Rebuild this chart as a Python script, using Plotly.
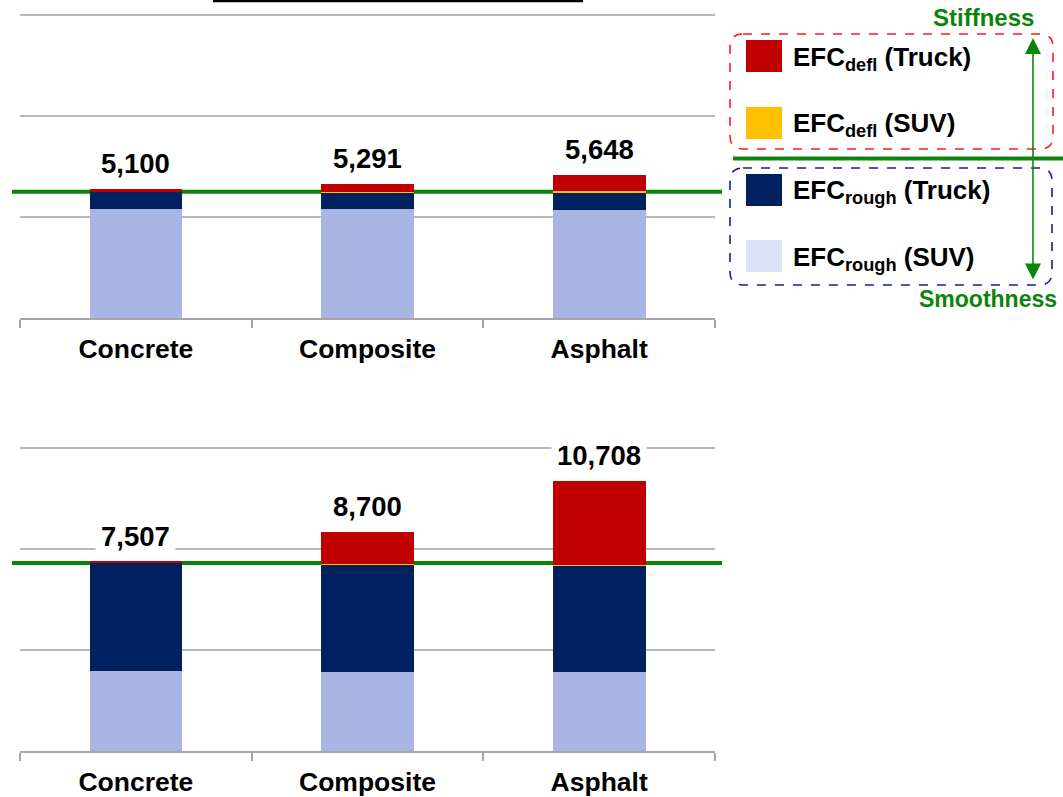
import plotly.graph_objects as go

W, H = 1063, 797

categories = ["Concrete", "Composite", "Asphalt"]

# Top panel
top_rough_suv = [4330, 4300, 4260]
top_rough_truck = [670, 680, 680]
top_defl_suv = [0, 30, 90]
top_defl_truck = [100, 281, 618]
top_totals = [5100, 5291, 5648]
top_ref = 5000

# Bottom panel
bot_rough_suv = [3190, 3150, 3120]
bot_rough_truck = [4257, 4244, 4216]
bot_defl_suv = [0, 30, 60]
bot_defl_truck = [60, 1276, 3312]
bot_totals = [7507, 8700, 10708]
bot_ref = 7460

y_ticks = [0, 4000, 8000, 12000]
y_max = 12400

C_RED = "#C00000"
C_YEL = "#FFC000"
C_NAVY = "#002060"
C_LIGHT = "#ABB5E3"
C_LIGHT_LEG = "#DCE2F8"
C_GREEN = "#0A850A"
FONT = "Liberation Sans, Arial, sans-serif"


def px_x(x):
    return x / W


def px_y(y):
    return 1 - y / H


fig = go.Figure()

series = [
    ("EFC rough (SUV)", C_LIGHT),
    ("EFC rough (Truck)", C_NAVY),
    ("EFC defl (SUV)", C_YEL),
    ("EFC defl (Truck)", C_RED),
]
top_vals = [top_rough_suv, top_rough_truck, top_defl_suv, top_defl_truck]
bot_vals = [bot_rough_suv, bot_rough_truck, bot_defl_suv, bot_defl_truck]

for (name, col), vals in zip(series, top_vals):
    fig.add_trace(go.Bar(x=categories, y=vals, name=name, marker_color=col,
                         marker_line_width=0, showlegend=False,
                         xaxis="x", yaxis="y"))
for (name, col), vals in zip(series, bot_vals):
    fig.add_trace(go.Bar(x=categories, y=vals, name=name, marker_color=col,
                         marker_line_width=0, showlegend=False,
                         xaxis="x2", yaxis="y2"))

xaxis_common = dict(
    type="category", showline=True, linecolor="#A6A6A6", linewidth=1.5,
    ticks="outside", tickson="boundaries", ticklen=8, tickcolor="#A6A6A6",
    tickwidth=1.5, showgrid=False, automargin=False, ticklabelstandoff=6,
    tickfont=dict(family=FONT, size=26.5, color="black", weight="bold"),
    domain=[px_x(20), px_x(715)], fixedrange=True,
)
yaxis_common = dict(
    range=[0, y_max], tickvals=y_ticks, showticklabels=False,
    showgrid=True, gridcolor="#B8B8B8", gridwidth=1.5, zeroline=False,
    showline=False, ticks="", automargin=False, fixedrange=True,
)

# plot-area pixel extents: 0 at baseline, 12000 at the top grid line
top_base, top_12k = 318, 15
bot_base, bot_12k = 751, 448.5
top_dom_top = top_base - (top_base - top_12k) * y_max / 12000
bot_dom_top = bot_base - (bot_base - bot_12k) * y_max / 12000

fig.update_layout(
    width=W, height=H, barmode="stack", bargap=0.6,
    margin=dict(l=0, r=0, t=0, b=0),
    paper_bgcolor="white", plot_bgcolor="rgba(0,0,0,0)",
    showlegend=False,
    xaxis=dict(**xaxis_common, anchor="y"),
    yaxis=dict(**yaxis_common, domain=[px_y(top_base), px_y(top_dom_top)], anchor="x"),
    xaxis2=dict(**xaxis_common, anchor="y2"),
    yaxis2=dict(**yaxis_common, domain=[px_y(bot_base), px_y(bot_dom_top)], anchor="x2"),
)

annotations = []
for xr, yr, totals in [("x", "y", top_totals), ("x2", "y2", bot_totals)]:
    for c, t in zip(categories, totals):
        annotations.append(dict(
            x=c, y=t, xref=xr, yref=yr, text=f"{t:,}", showarrow=False,
            yanchor="bottom", yshift=4, bgcolor="white", borderpad=5,
            font=dict(family=FONT, size=27.5, color="black", weight="bold"),
        ))

shapes = []
# Reference (green) lines, drawn beneath the bars
shapes.append(dict(type="line", xref="paper", yref="y", x0=px_x(12), x1=px_x(722),
                   y0=top_ref, y1=top_ref, layer="below",
                   line=dict(color=C_GREEN, width=4)))
shapes.append(dict(type="line", xref="paper", yref="y2", x0=px_x(12), x1=px_x(722),
                   y0=bot_ref, y1=bot_ref, layer="below",
                   line=dict(color=C_GREEN, width=4)))
# Black line at the very top (cropped title underline)
shapes.append(dict(type="line", xref="paper", yref="paper", x0=px_x(213), x1=px_x(583),
                   y0=px_y(1), y1=px_y(1), line=dict(color="black", width=2.5)))

# Legend boxes (rounded, dashed)
def rounded_rect(x0, y0, x1, y1, r):
    X = lambda v: f"{px_x(v):.5f}"
    Y = lambda v: f"{px_y(v):.5f}"
    return (f"M {X(x0 + r)},{Y(y0)} L {X(x1 - r)},{Y(y0)} Q {X(x1)},{Y(y0)} {X(x1)},{Y(y0 + r)} "
            f"L {X(x1)},{Y(y1 - r)} Q {X(x1)},{Y(y1)} {X(x1 - r)},{Y(y1)} "
            f"L {X(x0 + r)},{Y(y1)} Q {X(x0)},{Y(y1)} {X(x0)},{Y(y1 - r)} "
            f"L {X(x0)},{Y(y0 + r)} Q {X(x0)},{Y(y0)} {X(x0 + r)},{Y(y0)} Z")

shapes.append(dict(type="path", xref="paper", yref="paper",
                   path=rounded_rect(730, 34, 1053, 149, 13),
                   line=dict(color="#FF1A1A", width=1.6, dash="dash")))
shapes.append(dict(type="path", xref="paper", yref="paper",
                   path=rounded_rect(730, 168, 1052, 285, 13),
                   line=dict(color="#1A1AA6", width=1.6, dash="dash")))
# legend green line
shapes.append(dict(type="line", xref="paper", yref="paper", x0=px_x(733), x1=px_x(1063),
                   y0=px_y(158.5), y1=px_y(158.5), line=dict(color=C_GREEN, width=4)))

legend_items = [
    ("EFC<sub>defl</sub> (Truck)", C_RED, 40),
    ("EFC<sub>defl</sub> (SUV)", C_YEL, 107),
    ("EFC<sub>rough</sub> (Truck)", C_NAVY, 174),
    ("EFC<sub>rough</sub> (SUV)", C_LIGHT_LEG, 240),
]
for text, col, ytop in legend_items:
    shapes.append(dict(type="rect", xref="paper", yref="paper",
                       x0=px_x(746), x1=px_x(782), y0=px_y(ytop), y1=px_y(ytop + 32),
                       fillcolor=col, line=dict(width=0)))
    annotations.append(dict(
        x=px_x(791), y=px_y(ytop + 18), xref="paper", yref="paper", text=text,
        showarrow=False, xanchor="left", yanchor="middle",
        font=dict(family=FONT, size=26, color="black", weight="bold"),
    ))

# Stiffness / Smoothness labels
annotations.append(dict(x=px_x(931), y=px_y(18), xref="paper", yref="paper",
                        text="Stiffness", showarrow=False, xanchor="left", yanchor="middle",
                        font=dict(family=FONT, size=24, color=C_GREEN, weight="bold")))
annotations.append(dict(x=px_x(917), y=px_y(299), xref="paper", yref="paper",
                        text="Smoothness", showarrow=False, xanchor="left", yanchor="middle",
                        font=dict(family=FONT, size=23, color=C_GREEN, weight="bold")))
# Double-headed vertical arrow
annotations.append(dict(x=px_x(1033), y=px_y(38), xref="paper", yref="paper",
                        ax=0, ay=243, axref="pixel", ayref="pixel",
                        text="", showarrow=True, arrowhead=2, startarrowhead=2,
                        arrowside="end+start", arrowsize=2, startarrowsize=2,
                        arrowwidth=1.6, arrowcolor=C_GREEN))

fig.update_layout(shapes=shapes, annotations=annotations)

fig.write_html("out.html", config={"displayModeBar": False},
               post_script="document.body.style.margin='0px';document.body.style.padding='0px';")
